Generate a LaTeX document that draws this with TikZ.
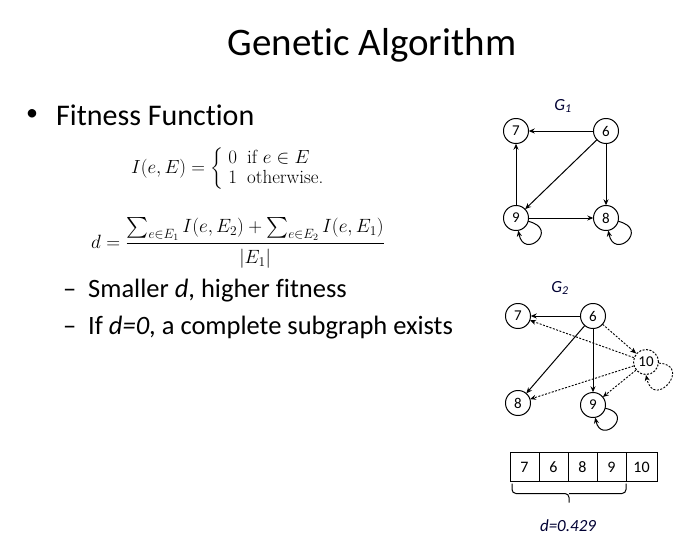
\RequirePackage{fix-cm}
\documentclass[tikz,border=0pt]{standalone}
\usepackage{amsmath}
\usepackage{fontspec}
\newfontfamily\calibri[Ligatures=NoCommon]{Carlito}
\usetikzlibrary{arrows.meta,calc}
\tikzset{
  gnode/.style={shape=circle, minimum size=25pt, inner sep=0pt, font=\calibri\fontsize{15}{15}\selectfont},
  ring/.style={draw=black, line width=1pt, line cap=round, line join=round},
  dgnode/.style={gnode, draw=black, line width=1pt, dash pattern=on 2pt off 1.5pt},
  arc/.style={draw=black, line width=1pt, -{Stealth[length=6pt,width=5pt]}},
  darc/.style={arc, dash pattern=on 2pt off 1.5pt, line width=0.9pt},
  cell/.style={draw, line width=1pt, minimum width=29pt, minimum height=29pt, inner sep=0pt, outer sep=0pt, font=\calibri\fontsize{16}{16}\selectfont},
  glabel/.style={font=\calibri\itshape\fontsize{17}{17}\selectfont, text=black!80!blue},
  btext/.style={anchor=base west, inner sep=0pt, font=\calibri\fontsize{26.5}{26.5}\selectfont},
}
\begin{document}
\begin{tikzpicture}[x=1pt,y=-1pt]
\useasboundingbox (0,0) rectangle (695,552);
\fill[white] (0,0) rectangle (695,552);
% title
\node[anchor=base, font=\calibri\fontsize{39}{39}\selectfont] (title) at (372,55) {Genetic Algorithm};
% bullet
\node[anchor=center, font=\calibri\fontsize{24}{24}\selectfont, inner sep=0pt] (b1) at (32,115) {\textbullet};
\node[anchor=base west, font=\calibri\fontsize{30}{30}\selectfont, inner sep=0pt] (fit) at (56,125) {Fitness Function};
% formulas
\node[anchor=west, inner sep=0pt, font=\fontsize{19}{20}\selectfont] (f1) at (131,169)
  {$I(e,E) = \left\{\begin{array}{ll} 0 & \text{if } e\in E\\ 1 & \text{otherwise.}\end{array}\right.$};
\node[anchor=west, inner sep=0pt, font=\fontsize{19.2}{23}\selectfont] (f2) at (91,243)
  {$\displaystyle d=\frac{\sum_{e\in E_1} I(e,E_2)+\sum_{e\in E_2} I(e,E_1)}{\rule{0pt}{17pt}|E_1|}$};
% sub bullets
\node[btext] (s1d) at (63,297) {\textendash};
\node[btext] (s1) at (88,297) {Smaller \textit{d}, higher fitness};
\node[btext] (s2d) at (63,334) {\textendash};
\node[btext] (s2) at (88,334) {If \textit{d=0}, a complete subgraph exists};

% G1
\node[glabel] (g1lab) at (563,106) {G\textsubscript{1}};
\node[gnode] (a7) at (516,131) {7};
\node[gnode] (a6) at (606,131) {6};
\node[gnode] (a9) at (516,218) {9};
\node[gnode] (a8) at (606,218) {8};
% G2
\node[glabel] (g2lab) at (560,288) {G\textsubscript{2}};
\node[gnode] (b7) at (518,316) {7};
\node[gnode] (b6) at (593,316) {6};
\node[dgnode] (b10) at (646,362) {10};
\node[gnode] (b8) at (518,403) {8};
\node[gnode] (b9) at (593,405) {9};
% node rings drawn as fine polygons
\foreach \n in {a7,a6,a9,a8,b7,b6,b8,b9}
  \draw[ring, shift={(\n.center)}] plot[samples=49, domain=0:360, variable=\t] ({12.5*cos(\t)},{12.5*sin(\t)});

\draw[arc] (a6) -- (a7);
\draw[arc] (a6) -- (a9);
\draw[arc] (a6) -- (a8);
\draw[arc] (a9) -- (a7);
\draw[arc] (a9) -- (a8);
\draw[arc] (a9.-15) .. controls +(32,8) and +(6,30) .. (a9.-80);
\draw[arc] (a8.-15) .. controls +(32,8) and +(6,30) .. (a8.-80);

\draw[arc] (b6) -- (b7);
\draw[arc] (b6) -- (b8);
\draw[arc] (b6) -- (b9);
\draw[arc] (b9.-15) .. controls +(30,6) and +(6,28) .. (b9.-80);
\draw[darc] (b6) -- (b10);
\draw[darc] (b10) -- (b7);
\draw[darc] (b10) -- (b8);
\draw[darc] (b10) -- (b9);
\draw[darc] (b10.-5) .. controls +(34,2) and +(8,36) .. (b10.-90);

% array
\node[cell] (c7) at (524.5,467) {7};
\node[cell, anchor=west] (c6) at (c7.east) {6};
\node[cell, anchor=west] (c8) at (c6.east) {8};
\node[cell, anchor=west] (c9) at (c8.east) {9};
\node[cell, anchor=west, minimum width=31pt] (c10) at (c9.east) {10};
\coordinate (bl) at ([xshift=2pt,yshift=-2pt]c7.south west);
\coordinate (br) at ([yshift=-2pt]c9.south east);
\coordinate (bm) at ($(bl)!0.5!(br)$);
\draw[line width=1pt, rounded corners=4pt] (bl) |- ([yshift=-10pt]bm) -- ([yshift=-19pt]bm);
\draw[line width=1pt, rounded corners=4pt] (br) |- ([yshift=-10pt]bm);
\node[glabel] (dval) at (568,526) {d=0.429};
\end{tikzpicture}
\end{document}
